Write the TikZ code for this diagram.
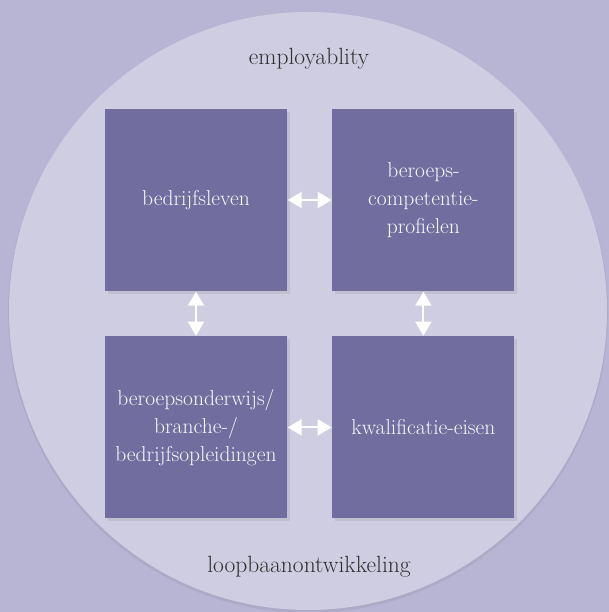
\documentclass[tikz,border=0pt]{standalone}
\usepackage{tikz}
\usetikzlibrary{positioning}
\usetikzlibrary{shadows}
\usetikzlibrary{arrows.meta}
\definecolor{bgpurple}{HTML}{B7B5D3}
\definecolor{circpurple}{HTML}{CECDE1}
\definecolor{boxpurple}{HTML}{716D9E}
\definecolor{textgray}{HTML}{303030}
\tikzstyle{field}=[rectangle, fill=boxpurple, minimum size=182pt,
  inner sep=4pt, text=white!95!boxpurple, align=center,
  font=\fontsize{21.5}{28}\selectfont,
  drop shadow={opacity=0.18, shadow xshift=3pt, shadow yshift=-3pt}]
\tikzstyle{outer}=[text=textgray, font=\fontsize{23.5}{28}\selectfont]
\tikzstyle{link}=[{Triangle[width=16pt,length=14pt]}-{Triangle[width=16pt,length=14pt]},
  line width=2pt, draw=white, shorten >=0.5pt, shorten <=0.5pt]

\begin{document}
\begin{tikzpicture}[x=1pt, y=1pt, node distance=45pt]

\fill[bgpurple] (0,0) rectangle (609,612);
\useasboundingbox (0,0) rectangle (609,612);
\begin{scope}
\clip (0,0) rectangle (609,612);
\fill[black, opacity=0.06] (308,299) circle (300pt);
\fill[circpurple] (308,301) circle (299pt);
\end{scope}

\node[field] at (196,412) (bedrijf) {bedrijfsleven};
\node[field, right=of bedrijf] (profiel) {beroeps-\\competentie-\\profielen};
\node[field, below=of bedrijf] (onderwijs) {beroepsonderwijs/\\branche-/\\bedrijfsopleidingen};
\node[field, right=of onderwijs] (eisen) {kwalificatie-eisen};

\node[outer] at (309,553) (employ) {employablity};
\node[outer] at (309,45) (loopbaan) {loopbaanontwikkeling};

\draw[link] (bedrijf.east) -- (profiel.west);
\draw[link] (onderwijs.east) -- (eisen.west);
\draw[link] (bedrijf.south) -- (onderwijs.north);
\draw[link] (profiel.south) -- (eisen.north);

\end{tikzpicture}
\end{document}
